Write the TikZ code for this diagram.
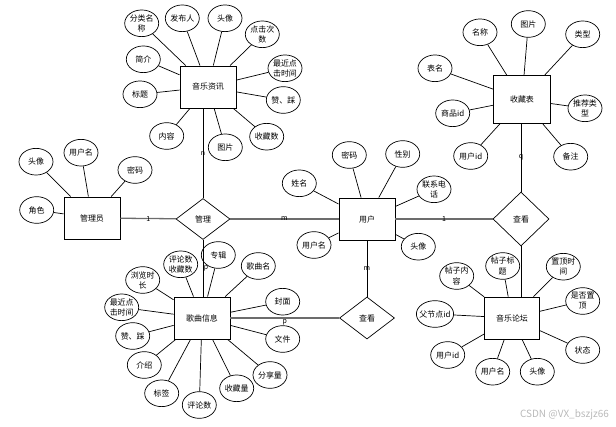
\documentclass[tikz,border=0pt]{standalone}
\usepackage{fontspec}
\setmainfont{Noto Sans CJK SC}
\usetikzlibrary{shapes.geometric}

\begin{document}
\begin{tikzpicture}[x=0.03cm,y=-0.03cm,font=\fontsize{6.8}{8.6}\selectfont,
  entity/.style={draw,line width=0.75pt,minimum width=1.68cm,minimum height=1.26cm,inner sep=0pt},
  attr/.style={draw,ellipse,line width=0.6pt,minimum width=1.02cm,minimum height=0.8cm,inner xsep=-2pt,inner ysep=-1.5pt,align=center},
  rel/.style={draw,diamond,line width=0.6pt,inner sep=0pt},
  link/.style={line width=0.6pt},
  hlink/.style={line width=1.1pt,gray!85!black},
  card/.style={font=\fontsize{6}{6}\selectfont,inner sep=0.5pt}]
\useasboundingbox (0,0) rectangle (616,427);
\node[entity] (zixun) at (208,87) {音乐资讯};
\node[entity] (admin) at (92,218) {管理员};
\node[entity] (yonghu) at (367,219) {用户};
\node[entity,minimum width=1.71cm,minimum height=1.44cm] (shoucang) at (522,99.5) {收藏表};
\node[entity] (gequ) at (202,318) {歌曲信息};
\node[entity,minimum width=1.65cm] (luntan) at (512,318) {音乐论坛};
\node[rel,minimum width=1.62cm,minimum height=1.23cm] (guanli) at (203,219) {管理};
\node[rel,minimum width=1.68cm,minimum height=1.62cm] (chakanA) at (521,219) {查看};
\node[rel,minimum width=1.65cm,minimum height=1.26cm] (chakanB) at (367,318) {查看};
\foreach \x/\y/\t [count=\i] in {141.7/23.3/分类名\\称,182.3/18.3/发布人,225/18.3/头像,262.3/34.3/点击次\\数,
  285/68.3/最近点\\击时间,283.3/100/赞、踩,266.7/136.7/收藏数,225.3/147.3/图片,166.7/136/内容,140/94.3/标题,143.3/59.3/简介}{
  \node[attr] (zx\i) at (\x,\y) {\t};
  \draw[link] (zixun) -- (zx\i);
}
\foreach \x/\y/\t [count=\i] in {36/161.7/头像,81/152.7/用户名,135/170/密码,36.7/210/角色}{
  \node[attr] (gly\i) at (\x,\y) {\t};
  \draw[link] (admin) -- (gly\i);
}
\foreach \x/\y/\t [count=\i] in {299.3/183.3/姓名,349.3/155/密码,402.7/154/性别,434/189.3/联系电\\话,418.3/246.7/头像,314/245/用户名}{
  \node[attr] (yh\i) at (\x,\y) {\t};
  \draw[link] (yonghu) -- (yh\i);
}
\foreach \x/\y/\t [count=\i] in {435/68.3/表名,480/32.3/名称,528.3/24/图片,582.7/34.3/类型,585/108.3/推荐类\\型,
  570.7/156.7/备注,470.7/156/用户id,452.7/113.3/商品id}{
  \node[attr] (sc\i) at (\x,\y) {\t};
  \draw[link] (shoucang) -- (sc\i);
}
\foreach \x/\y/\t [count=\i] in {180.7/264.3/评论数\\收藏数,218.3/255/专辑,258.3/266/歌曲名,282.7/301.7/封面,282.7/339/文件,
  270/375/分享量,236.7/388.3/收藏量,199.3/405/评论数,161.7/393.3/标签,144.3/365/介绍,132.7/336/赞、踩,
  121.7/307.3/最近点\\击时间,142.7/280/浏览时\\长}{
  \node[attr] (gq\i) at (\x,\y) {\t};
  \draw[link] (gequ) -- (gq\i);
}
\foreach \x/\y/\t [count=\i] in {456.7/276/帖子内\\容,502.7/266/帖子标\\题,563.3/266.7/置顶时\\间,582.7/301/是否置\\顶,
  582.7/350/状态,537.3/371.7/头像,492.7/371.7/用户名,447.7/355/用户id,435/314/父节点id}{
  \node[attr] (lt\i) at (\x,\y) {\t};
  \draw[link] (luntan) -- (lt\i);
}
\draw[link] (guanli.north) -- node[card]{n} (guanli.north |- zixun.south);
\draw[hlink] (admin) -- node[card,text=black]{1} (guanli);
\draw[hlink] (guanli) -- node[card,text=black]{m} (yonghu);
\draw[link] (guanli.south) -- node[card,right]{p} (guanli.south |- gequ.north);
\draw[hlink] (yonghu) -- node[card,text=black]{1} (chakanA);
\draw[link] (chakanA.north) -- node[card]{q} (chakanA.north |- shoucang.south);
\draw[link] (chakanA.south) -- (chakanA.south |- luntan.north);
\draw[link] (yonghu) -- node[card]{m} (chakanB);
\draw[hlink] (gequ) -- node[card,text=black,below]{p} (chakanB);
\node[text=gray!55,font=\fontsize{8.5}{9}\selectfont,anchor=east] (wm) at (613,415) {CSDN @VX\_bszjz66};
\end{tikzpicture}
\end{document}
